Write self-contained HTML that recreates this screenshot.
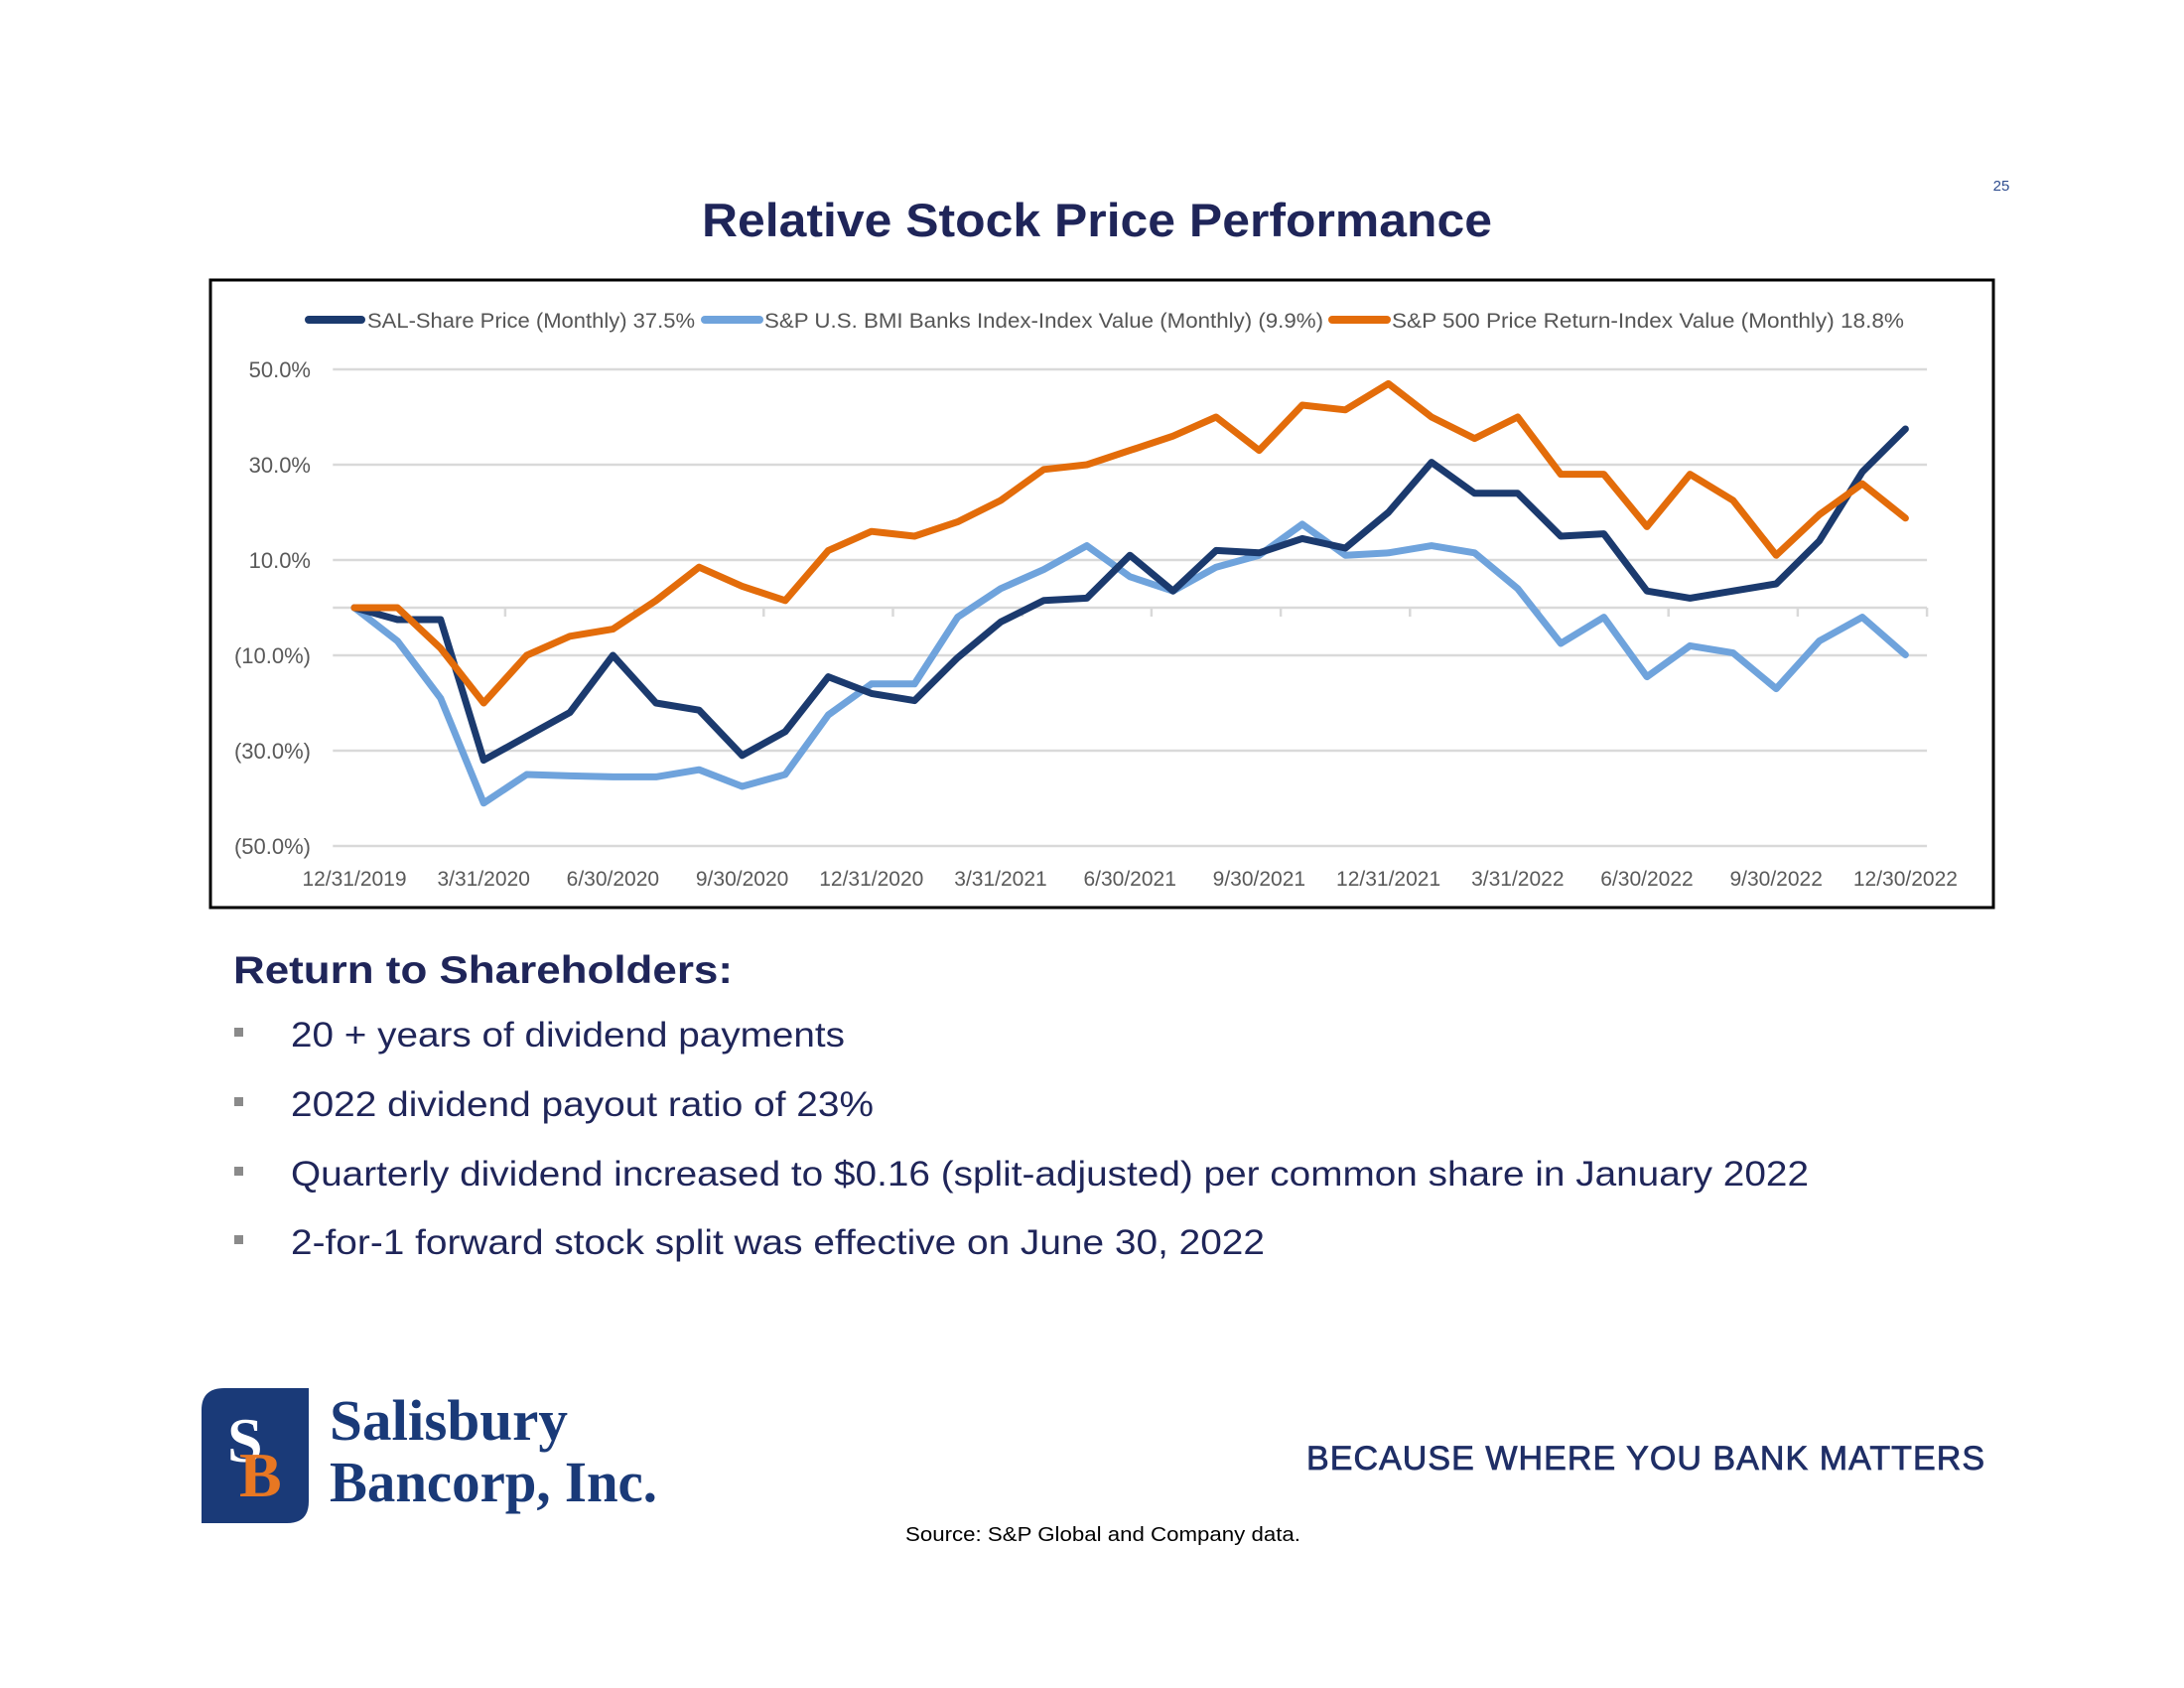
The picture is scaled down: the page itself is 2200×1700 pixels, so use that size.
<!DOCTYPE html>
<html><head><meta charset="utf-8"><style>
html,body{margin:0;padding:0;background:#fff}
svg{display:block}
text{font-family:"Liberation Sans",sans-serif}
text.serif{font-family:"Liberation Serif",serif}
</style></head><body>
<svg id="page" width="2200" height="1700" viewBox="0 0 2200 1700" xmlns="http://www.w3.org/2000/svg">
<text x="2016" y="192" font-size="15" fill="#2f4d8f" text-anchor="middle">25</text>
<text x="1105" y="238" font-size="47" font-weight="bold" fill="#1f2559" text-anchor="middle" textLength="796" lengthAdjust="spacingAndGlyphs">Relative Stock Price Performance</text>
<rect x="212" y="282" width="1796" height="632" fill="#fff" stroke="#000" stroke-width="3"/>
<g id="legend">
<g><line x1="311" y1="322" x2="364" y2="322" stroke="#1b3a6e" stroke-width="8" stroke-linecap="round"/><text x="370" y="330" font-size="21" fill="#555" textLength="330" lengthAdjust="spacingAndGlyphs">SAL-Share Price (Monthly) 37.5%</text></g>
<g><line x1="710" y1="322" x2="765" y2="322" stroke="#6fa3dc" stroke-width="8" stroke-linecap="round"/><text x="770" y="330" font-size="21" fill="#555" textLength="563" lengthAdjust="spacingAndGlyphs">S&amp;P U.S. BMI Banks Index-Index Value (Monthly) (9.9%)</text></g>
<g><line x1="1342" y1="322" x2="1397" y2="322" stroke="#e36c0a" stroke-width="8" stroke-linecap="round"/><text x="1402" y="330" font-size="21" fill="#555" textLength="516" lengthAdjust="spacingAndGlyphs">S&amp;P 500 Price Return-Index Value (Monthly) 18.8%</text></g>
</g>
<g id="grid"></g>
<g id="yaxis"></g>
<g id="xaxis"></g>
<g id="series"></g>

<text x="235" y="990" font-size="39" font-weight="bold" fill="#1f2559" textLength="503" lengthAdjust="spacingAndGlyphs">Return to Shareholders:</text>
<g fill="#8a8a8a">
<rect x="236" y="1035" width="9" height="9"/><rect x="236" y="1105" width="9" height="9"/><rect x="236" y="1175" width="9" height="9"/><rect x="236" y="1244" width="9" height="9"/>
</g>
<g font-size="35" fill="#1f2559">
<text x="293" y="1054" textLength="558" lengthAdjust="spacingAndGlyphs">20 + years of dividend payments</text>
<text x="293" y="1124" textLength="587" lengthAdjust="spacingAndGlyphs">2022 dividend payout ratio of 23%</text>
<text x="293" y="1194" textLength="1529" lengthAdjust="spacingAndGlyphs">Quarterly dividend increased to $0.16 (split-adjusted) per common share in January 2022</text>
<text x="293" y="1263" textLength="981" lengthAdjust="spacingAndGlyphs">2-for-1 forward stock split was effective on June 30, 2022</text>
</g>

<g>
<path d="M226,1398 H311 V1512 Q311,1534 289,1534 H203 V1420 Q203,1398 226,1398 Z" fill="#1a3a78"/>
<text class="serif" x="229" y="1472" font-size="64" font-weight="bold" fill="#fff">S</text>
<text class="serif" x="241" y="1507" font-size="64" font-weight="bold" fill="#e87722">B</text>
<text class="serif" x="332" y="1450" font-size="58" font-weight="bold" fill="#1a3a78" textLength="240" lengthAdjust="spacingAndGlyphs">Salisbury</text>
<text class="serif" x="332" y="1512" font-size="58" font-weight="bold" fill="#1a3a78" textLength="330" lengthAdjust="spacingAndGlyphs">Bancorp, Inc.</text>
</g>
<text x="1316" y="1480" font-size="34" fill="#1f2e66" stroke="#1f2e66" stroke-width="0.8" textLength="683" lengthAdjust="spacing">BECAUSE WHERE YOU BANK MATTERS</text>
<text x="912" y="1552" font-size="20" fill="#000" textLength="398" lengthAdjust="spacingAndGlyphs">Source: S&amp;P Global and Company data.</text>
</svg>
<script>
const categories = ["12/31/2019","1/31/2020","2/29/2020","3/31/2020","4/30/2020","5/31/2020","6/30/2020","7/31/2020","8/31/2020","9/30/2020","10/31/2020","11/30/2020","12/31/2020","1/31/2021","2/28/2021","3/31/2021","4/30/2021","5/31/2021","6/30/2021","7/31/2021","8/31/2021","9/30/2021","10/31/2021","11/30/2021","12/31/2021","1/31/2022","2/28/2022","3/31/2022","4/30/2022","5/31/2022","6/30/2022","7/31/2022","8/31/2022","9/30/2022","10/31/2022","11/30/2022","12/30/2022"];
const salValues = [0,-2.5,-2.5,-32,-27,-22,-10,-20,-21.5,-31,-26,-14.5,-18,-19.5,-10.5,-3,1.5,2,11,3.5,12,11.5,14.5,12.5,20,30.5,24,24,15,15.5,3.5,2,3.5,5,14,28.5,37.5];
const banksValues = [0,-7,-19,-41,-35,-35.3,-35.5,-35.5,-34,-37.5,-35,-22.5,-16,-16,-2,4,8,13,6.5,3.5,8.5,11,17.5,11,11.5,13,11.5,4,-7.5,-2,-14.5,-8,-9.5,-17,-7,-2,-9.9];
const sp500Values = [0,0,-8.5,-20,-10,-6,-4.5,1.5,8.5,4.5,1.5,12,16,15,18,22.5,29,30,33,36,40,33,42.5,41.5,47,40,35.5,40,28,28,17,28,22.5,11,19.5,26,18.8];
const yTicks = [50,30,10,0,-10,-30,-50];
const yTickLabels = ["50.0%","30.0%","10.0%","","(10.0%)","(30.0%)","(50.0%)"];
const xLabelIndices = [0,3,6,9,12,15,18,21,24,27,30,33,36];

const NS="http://www.w3.org/2000/svg";
const X0=357, STEP=43.4, Y0=612, YPER=4.8;
const xs=i=>X0+i*STEP;
const ys=v=>Y0-v*YPER;
function mk(tag,attrs,parent){const e=document.createElementNS(NS,tag);for(const k in attrs)e.setAttribute(k,attrs[k]);parent.appendChild(e);return e;}
const grid=document.getElementById('grid'), yaxis=document.getElementById('yaxis'), xaxis=document.getElementById('xaxis'), series=document.getElementById('series');
const n=categories.length;
yTicks.forEach((v,i)=>{
  const g=mk('line',{x1:xs(-0.5),x2:xs(n-0.5),y1:ys(v),y2:ys(v),stroke:'#d9d9d9','stroke-width':2.5},grid);
  
  
  if(yTickLabels[i]){
    const t=mk('text',{x:313,y:ys(v)+8,'font-size':22,fill:'#595959','text-anchor':'end'},yaxis);
    t.textContent=yTickLabels[i];
    
    
  }
});
for(let k=3.5;k<=n-0.5+0.01;k+=3){
  const tk=mk('line',{x1:xs(k),x2:xs(k),y1:Y0,y2:Y0+9,stroke:'#d9d9d9','stroke-width':2.5},xaxis);
  
  
}
xLabelIndices.forEach(i=>{
  const t=mk('text',{x:xs(i),y:892,'font-size':21,fill:'#595959','text-anchor':'middle'},xaxis);
  t.textContent=categories[i];
  
  
});
function drawLine(vals,color,name){
  const p=vals.map((v,i)=>(i?'L':'M')+xs(i).toFixed(1)+','+ys(v).toFixed(1)).join(' ');
  const el=mk('path',{d:p,fill:'none',stroke:color,'stroke-width':7,'stroke-linejoin':'round','stroke-linecap':'round'},series);
  
  
}
drawLine(banksValues,'#6fa3dc','series-banks-index');
drawLine(salValues,'#1b3a6e','series-sal-share-price');
drawLine(sp500Values,'#e36c0a','series-sp500');
</script>
</body></html>
